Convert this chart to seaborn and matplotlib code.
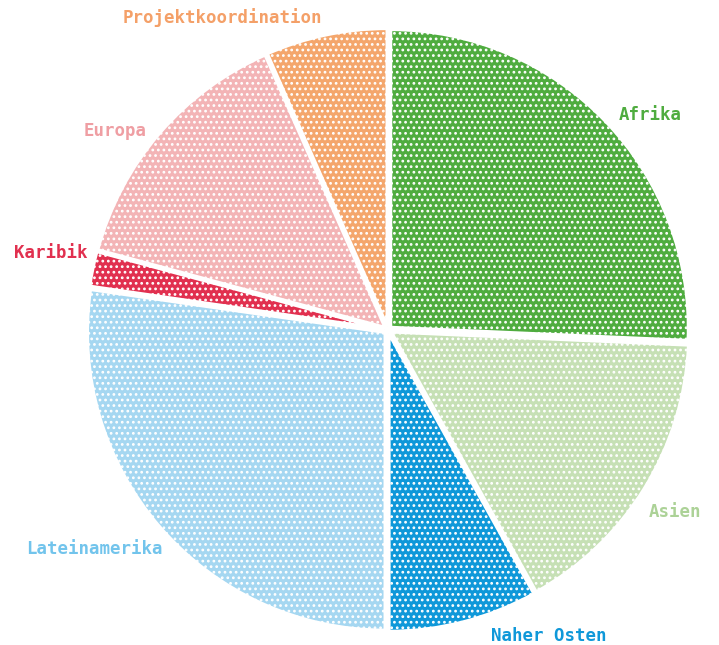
import matplotlib
matplotlib.use("Agg")
import matplotlib.pyplot as plt
import numpy as np
import seaborn as sns

# Regions, shares (percent) and colours
regions = ["Afrika", "Asien", "Naher Osten", "Lateinamerika", "Karibik", "Europa", "Projektkoordination"]
shares = [25.7, 16.2, 8.1, 27.3, 1.9, 14.2, 6.6]
colors = ["#4fac3f", "#c6e0b5", "#0f98d9", "#a5d7f1", "#e1304f", "#f3b4b6", "#f4a66c"]
label_colors = ["#4fac3f", "#acd297", "#0f98d9", "#72c4ec", "#e1304f", "#ef9ea3", "#f4a068"]

# label placement: angle offset from wedge middle (deg) and radius
label_turn = [-4.4, -0.7, 13.1, -4.2, -1.1, 4.6, 16.0]
label_dist = [1.14, 1.14, 1.16, 1.23, 1.16, 1.135, 1.185]

sns.set_theme(style="white")
plt.rcParams["font.family"] = ["DejaVu Sans Mono", "DejaVu Sans"]
plt.rcParams["hatch.linewidth"] = 1.2

fig = plt.figure(figsize=(7.19, 6.45), dpi=100)
ax = fig.add_axes([0, 0, 1, 1])

wedges, _ = ax.pie(
    shares,
    colors=colors,
    startangle=90,
    counterclock=False,
    explode=[0.012] * len(shares),
    wedgeprops=dict(edgecolor="white", linewidth=2.5, hatch="..."),
)

for w, name, c, turn, dist in zip(wedges, regions, label_colors, label_turn, label_dist):
    mid = np.deg2rad((w.theta1 + w.theta2) / 2 + turn)
    ax.text(dist * np.cos(mid), dist * np.sin(mid), name, color=c,
            ha="center", va="center", fontsize=12.5, fontweight="bold")

ax.set_xlim(-1.302, 1.111)
ax.set_ylim(-1.057, 1.107)
ax.set_aspect("equal", adjustable="datalim")
ax.axis("off")

fig.savefig("out.png", dpi=100, facecolor="white")
